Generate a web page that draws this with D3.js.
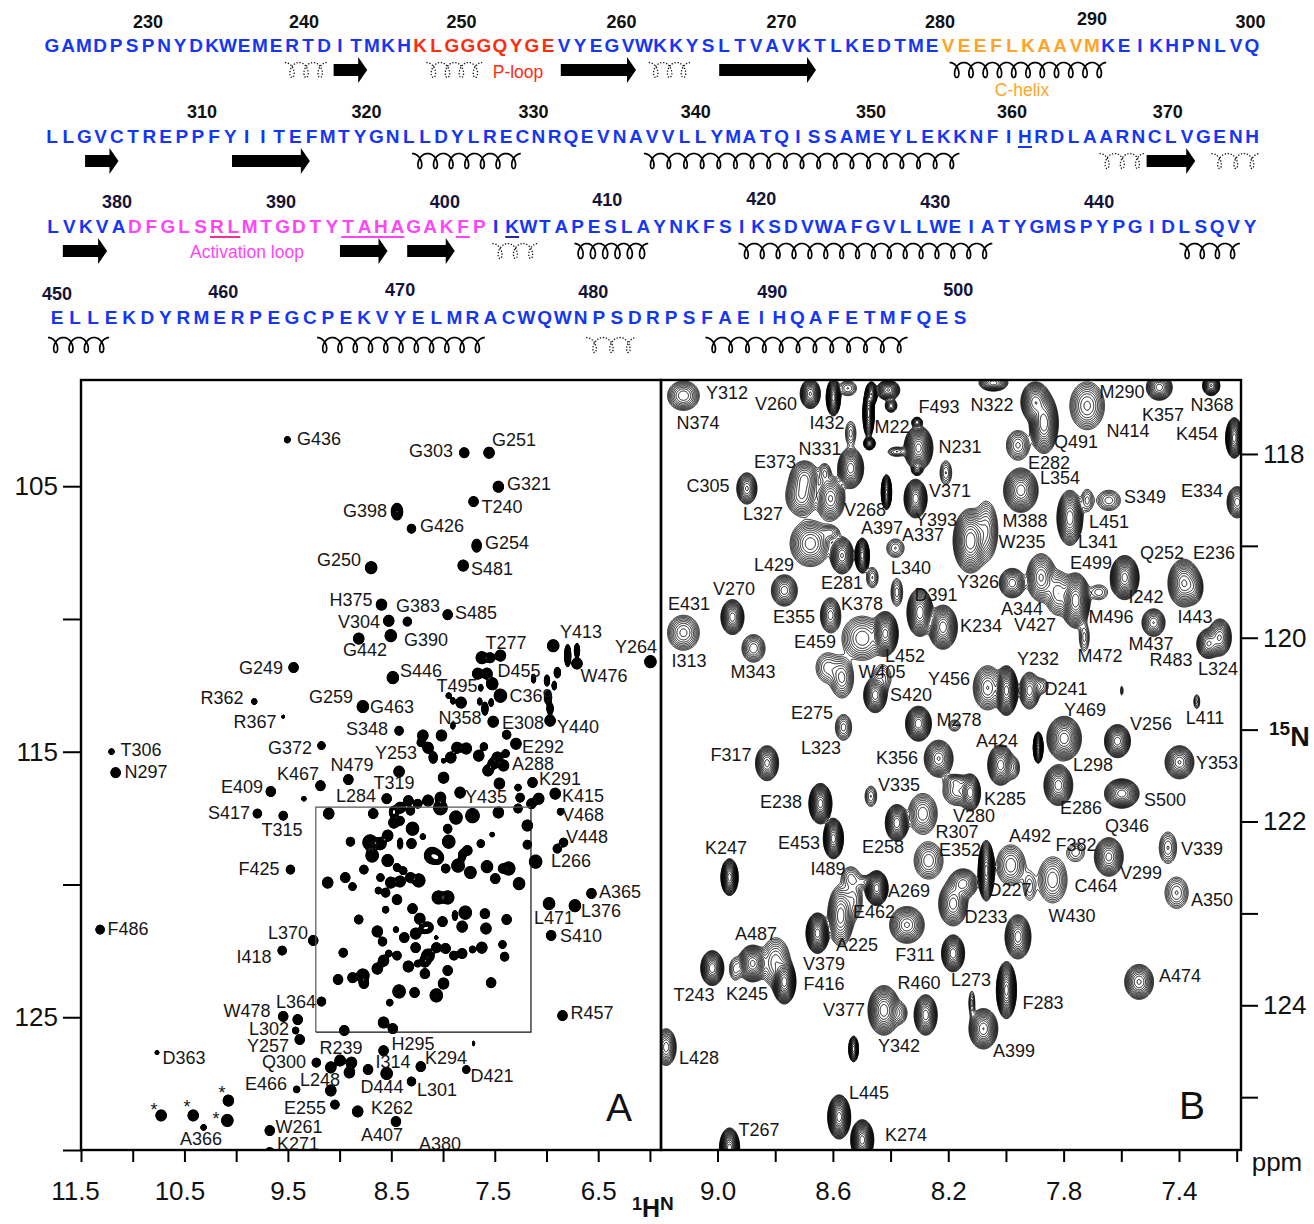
<!DOCTYPE html>
<html>
<head>
<meta charset="utf-8">
<script src="https://cdn.jsdelivr.net/npm/d3@7"></script>
<style>
  body { margin: 0; background: #fff; }
  svg text { font-family: "Liberation Sans", Arial, sans-serif; }
</style>
</head>
<body>
<div id="chart"></div>
<script>
// sequence, one string per printed row
const seqRows = [
  "GAMDPSPNYDKWEMERTDITMKHKLGGGQYGEVYEGVWKKYSLTVAVKTLKEDTMEVEEFLKAAVMKEIKHPNLVQ",
  "LLGVCTREPPFYIITEFMTYGNLLDYLRECNRQEVNAVVLLYMATQISSAMEYLEKKNFIHRDLAARNCLVGENH",
  "LVKVADFGLSRLMTGDTYTAHAGAKFPIKWTAPESLAYNKFSIKSDVWAFGVLLWEIATYGMSPYPGIDLSQVY",
  "ELLEKDYRMERPEGCPEKVYELMRACWQWNPSDRPSFAEIHQAFETMFQES"
];
const rowFirstResidue = [225, 301, 376, 450];

// coloured stretches: [row, first index, last index]
const pLoop = [0, 23, 31];
const cHelix = [0, 56, 65];
const activationLoop = [2, 5, 26];

// residue numbers printed over each row, with position along the row
const seqNumbers = [
  [[230, 6.0], [240, 15.75], [250, 25.6], [260, 35.6], [270, 45.6], [280, 55.5], [290, 65.0], [300, 74.9]],
  [[310, 9.25], [320, 19.4], [330, 29.7], [340, 39.7], [350, 50.5], [360, 59.2], [370, 68.8]],
  [[380, 3.9], [390, 13.9], [400, 23.9], [410, 33.8], [420, 43.2], [430, 53.8], [440, 63.8]],
  [[450, 0], [460, 9.2], [470, 19], [480, 29.7], [490, 39.6], [500, 49.9]]
];

// underlined residues: [row, first index, last index, colour name]
const underlines = [
  [1, 60, 60, "blue"], [2, 10, 11, "rose"], [2, 18, 21, "magenta"], [2, 25, 25, "magenta"], [2, 28, 28, "navy"]
];

// secondary structure as residue ranges: [row, from, to], helices also with their number of turns
const strands = [
  [0, 242.6, 244.7], [0, 256.8, 261.5], [0, 266.7, 272.75],
  [1, 303.04, 305.1], [1, 312.1, 316.9], [1, 368.5, 371.5],
  [2, 376.6, 379.3], [2, 393.5, 396.4], [2, 397.6, 400.5]
];
const helices = [
  [0, 281.1, 290.9, 11],
  [1, 323.2, 329.95, 7], [1, 337.5, 357, 19],
  [2, 407.8, 412.3, 6], [2, 417.8, 433.3, 16], [2, 444.7, 448.4, 4],
  [3, 449.5, 452.9, 4], [3, 464.4, 473.7, 11], [3, 485.9, 497.1, 12]
];
const dashedHelices = [
  [0, 239.56, 242.2, 3], [0, 248.4, 251.9, 4], [0, 262.3, 264.9, 3],
  [1, 365.6, 368.4, 3], [1, 372.5, 375.5, 3],
  [2, 402.8, 405.6, 3],
  [3, 479.3, 482.1, 3]
];

// full spectrum peaks: [1H ppm, 15N ppm, size, optional stretch in 15N]
const peaksA = [
  [9.51,103.23,.55],[7.80,103.72,.9],[7.56,103.72,1],[7.47,105.00,1],[7.71,105.56,.9],[8.45,105.94,1.1,1.4],
  [8.31,106.58,.8],[7.68,107.22,.9,1.3],[7.81,107.97,1],[8.70,108.05,1.1],[8.60,109.44,1],[8.35,110.08,.8],
  [8.53,110.05,1],[7.96,109.82,.9],[8.51,110.61,1.1],[8.82,110.72,1],[6.94,110.99,1.1],[6.00,111.59,1.1],
  [9.45,111.81,.9],[8.49,112.19,1.1],[9.83,113.09,.5],[8.78,113.28,1.1],[9.55,113.66,.25],[8.43,114.19,.8],
  [9.18,114.75,.7],[9.19,116.26,.9],[8.92,116.03,.9],[8.43,115.73,1],[8.55,116.75,.9],[9.67,116.48,.9],
  [9.80,117.31,.8],[9.55,117.39,.8],[9.35,116.75,.4],[6.92,116.56,1],[6.87,117.24,.6],[6.90,118.63,.8],
  [6.84,118.40,.8],[7.11,119.12,1.2],[9.48,119.42,.8],[6.57,120.32,.9],[6.73,120.78,1.1],[6.98,120.70,1.1],
  [6.96,121.90,.9],[11.32,121.68,.8],[9.26,122.09,.9],[9.56,122.47,.8],[6.85,124.92,.9],[9.18,124.39,.8],
  [9.55,124.95,.9],[9.41,125.07,.9],[9.43,125.48,.6],[9.39,125.82,.9],[8.96,125.48,.9],[8.58,125.18,1],
  [8.49,125.41,.9],[10.77,126.31,.35],[9.23,126.69,.8],[9.09,126.87,1],[9.00,126.61,1],[8.89,126.69,1],
  [8.91,127.06,1],[8.73,126.95,.9],[8.55,127.10,1.1],[8.22,126.84,.9],[7.78,126.95,.7],[8.58,126.24,.9],
  [7.71,125.97,.2,2],[9.42,127.70,.6],[9.09,127.74,1],[8.31,127.40,.8],[9.05,128.27,.8],[8.83,128.53,1],
  [8.46,128.91,.9],[10.08,128.12,1],[10.42,128.68,1],[10.73,128.68,1],[10.09,128.87,1.1],[10.32,129.13,.5],
  [9.68,129.25,.9],[9.68,130.08,.9],[8.29,130.15,.9],[11.21,114.98,.5],[11.17,115.77,.9],
  // upper crowded part
  [7.63,111.44,1.1],[7.45,111.36,1],[7.55,111.44,.9],[7.67,112.04,1],[7.58,112.04,1],[7.53,112.42,1.1],
  [7.45,112.87,1.2],[6.80,111.36,.6,3.4],[6.71,111.66,1],[6.71,111.17,.5,2.6],[6.90,112.00,.6,1.6],[7.00,112.30,.5,2],
  [6.93,112.49,.4,2],[7.13,112.23,.4,2],[7.64,112.57,.4,1.5],[7.83,113.13,1],[7.95,112.87,.5],[7.91,113.06,.4,1.5],
  [7.65,113.09,.4,1.6],[7.60,113.36,.6,2],[7.54,113.13,.4,1.8],[6.99,112.94,.7,1.8],[6.97,113.36,.6,1.8],[7.52,113.85,1],
  [6.97,113.81,1],[7.91,114.00,.4,1.5],[8.02,114.37,1],[8.20,114.37,1],[8.22,114.64,.7],[8.15,114.83,1],
  [8.10,115.20,.8,1.3],[7.87,114.83,1],[7.78,114.86,1],[7.93,115.20,1],[8.00,115.32,.4],[8.00,115.96,1],
  [7.66,115.13,1],[7.61,114.79,.7],[7.39,114.34,.8],[7.30,114.68,1],[7.40,115.05,.7],[7.48,115.20,1],
  [7.42,115.50,1],[7.52,115.43,1],[7.57,115.69,1],[7.46,116.18,1],[7.14,116.14,.9],[7.28,116.33,.6],
  [7.08,116.75,1],[7.84,116.52,1],[7.26,116.71,.8],[7.28,117.12,.8],[7.15,116.94,.9],[8.03,116.71,1],
  [8.15,116.82,1],[8.25,116.94,.8],[8.34,116.82,.9],[8.42,117.09,1],[8.48,117.20,.8],
  // boxed part, same region as panel B
  [9.11,117.31,1],[8.68,117.31,.9],[8.48,117.31,.8],[8.32,117.20,.8],[8.03,117.09,1.3],[7.88,117.46,1.2],
  [7.72,117.39,1.3],[7.47,117.27,1],[7.19,117.76,1],[8.30,117.88,1.2],[8.48,117.65,1],[8.42,117.58,.8],
  [8.54,118.14,1],[8.90,118.37,.8],[8.71,118.40,1.4],[8.61,118.44,1.1],[8.69,118.89,1.2],[8.54,119.08,1.1],
  [8.42,118.44,.5,2],[8.31,118.44,.9],[8.20,118.18,.5],[7.95,118.37,1.2],[7.96,117.88,.8],[7.64,118.44,.7],
  [7.53,118.10,.4],[7.19,118.48,.8],[7.77,118.70,.9],[8.11,118.89,1.5],[8.06,118.97,1.2],[7.86,119.27,1.2],
  [7.98,119.38,.8],[7.74,119.53,1.1],[7.82,118.89,.7,1.5],[7.58,119.31,1.1],[7.37,119.38,1.2],[7.43,119.38,.8],
  [7.50,119.76,.9],[7.27,119.95,1.1],[8.77,119.42,.8],[8.45,119.34,.7],[8.39,119.46,.7],[9.12,119.91,1],
  [8.95,119.72,.9],[8.88,120.06,.7],[8.61,119.72,.7],[8.51,119.91,1],[8.42,119.87,1],[8.32,119.72,.9],
  [8.24,119.83,1.2],[8.63,120.21,.6],[8.56,120.29,.8],[8.45,120.55,.9],[8.05,120.47,1.2],[7.96,120.47,1.2],
  [8.30,120.89,.9],[8.56,120.93,.6],[8.82,121.30,.8],[8.23,121.27,1],[8.15,121.60,1],[8.01,121.38,.9],
  [7.79,121.04,1.2],[7.89,121.15,.5,1.8],[7.60,121.08,.9],[7.82,121.57,1],[7.39,121.30,.9],[7.59,121.64,1],
  [8.64,121.75,1],[8.59,122.13,.8],[8.46,121.68,.5],[8.38,121.98,.9],[8.27,121.83,1],[8.19,121.64,.9],
  [8.07,121.98,.3],[8.27,122.36,.9],[8.07,122.36,.9],[7.98,122.39,.9],[7.90,122.66,.8],[7.82,122.58,.9],
  [7.72,122.43,.6],[7.63,122.36,1],[7.43,122.24,.7],[7.41,122.70,.8],[8.97,122.55,.8],[8.53,122.58,.6],
  [8.45,122.66,.8],[8.15,122.66,1.2],[8.18,122.88,1],[8.34,123.07,1],[8.25,122.96,.6],[7.96,123.22,.9],
  [8.18,123.34,.9],[8.58,122.85,1],[8.64,123.15,1],[9.02,123.56,.9],[8.88,123.49,.9],[8.78,123.41,1.2],
  [8.77,123.71,.9],[8.43,124.01,1.2],[8.28,124.05,.9],[8.00,123.71,1],[8.07,124.16,1.2],[7.54,123.68,.9],
  [8.52,124.43,.6]
];

// zoomed region peaks: [1H ppm, 15N ppm, half width 1H, half width 15N, intensity]
const peaksB = [
  [9.12,117.36,.055,.16,9],[8.68,117.34,.035,.16,26],[8.60,117.38,.025,.20,80],[8.478,117.55,.02,.27,80],
  [8.468,117.34,.02,.13,40],[8.475,117.88,.02,.07,26],[8.41,117.30,.04,.11,26],[8.40,117.47,.02,.07,9],
  [8.305,117.93,.05,.24,60],[8.31,117.65,.018,.055,9],[8.31,118.17,.018,.055,9],[8.21,118.20,.02,.13,3.5],
  [8.54,118.15,.045,.22,30],[8.54,117.77,.018,.13,3],[8.70,118.26,.05,.19,12],[8.71,118.45,.055,.22,12],
  [8.61,118.48,.05,.24,16],[8.90,118.37,.035,.17,16],[8.416,118.41,.018,.19,100],[8.315,118.48,.04,.21,50],
  [8.68,118.97,.07,.25,14],[8.57,119.10,.04,.20,26],[8.50,119.10,.025,.19,80],[8.385,119.02,.03,.10,3.5],
  [8.125,118.94,.06,.35,40],[8.07,118.83,.04,.32,9],[8.77,119.48,.045,.17,14],[8.465,119.34,.02,.11,3.5],
  [8.38,119.50,.02,.15,4],[8.95,119.77,.04,.19,30],[9.12,119.94,.055,.19,8],[8.877,120.11,.04,.15,7],
  [8.61,119.75,.035,.19,14],[8.50,120.0,.07,.24,9],[8.42,119.95,.045,.24,60],[8.30,119.72,.045,.26,40],
  [8.22,119.88,.05,.24,30],[8.62,120.32,.04,.16,4],[8.57,120.43,.04,.22,8],
  [7.90,117.43,.05,.22,30],[7.87,117.66,.05,.33,40],[7.72,117.47,.06,.26,10],[7.47,117.27,.045,.14,18],
  [7.29,117.25,.03,.11,26],[8.045,117.22,.05,.09,14],[7.21,117.82,.03,.22,80],[7.96,117.90,.04,.16,6],
  [7.95,118.39,.06,.24,30],[7.78,118.69,.045,.30,40],[7.645,118.50,.04,.11,4],[7.20,118.52,.035,.17,14],
  [7.98,119.40,.045,.16,14],[7.88,119.34,.05,.26,16],[7.82,119.51,.045,.24,9],[7.76,119.59,.05,.30,50],
  [7.59,119.34,.05,.24,60],[7.385,119.40,.055,.26,26],[7.35,119.45,.03,.16,8],[7.49,119.83,.04,.15,12],
  [7.30,120.06,.04,.16,20],[7.26,119.99,.04,.20,20],[7.73,119.99,.017,.15,3],
  [8.00,120.57,.04,.27,100],[8.065,120.54,.05,.24,12],[7.92,120.57,.035,.2,14],[7.89,121.19,.017,.17,100],
  [7.80,121.09,.06,.24,30],[7.615,121.12,.045,.18,30],[7.40,121.35,.05,.18,20],[8.02,121.38,.045,.22,30],
  [7.975,121.41,.02,.11,3.5],[7.82,121.60,.05,.22,30],[7.60,121.69,.06,.16,30],[7.34,120.69,.01,.075,3],
  [7.60,120.57,.004,.05,2],[7.44,122.28,.03,.17,4.5],[7.41,122.77,.04,.17,4.5],[7.645,122.38,.05,.21,22],
  [7.985,122.47,.05,.22,7],[7.84,122.63,.05,.25,7],[8.07,122.53,.028,.33,100],[7.96,123.25,.045,.24,30],
  [8.455,120.62,.04,.19,30],[8.305,120.93,.045,.19,40],[8.565,120.97,.028,.14,5],[8.83,121.36,.04,.19,22],
  [8.235,121.31,.05,.2,20],[8.47,121.72,.02,.11,3.5],[8.645,121.80,.04,.22,80],[8.60,122.18,.035,.22,80],
  [8.38,122.01,.04,.2,40],[8.29,121.91,.05,.22,9],[8.17,121.66,.05,.16,7],[8.125,121.68,.035,.2,30],
  [8.96,122.60,.03,.2,80],[8.45,122.72,.04,.19,80],[8.54,122.60,.03,.11,3.5],[8.27,122.42,.05,.2,7],
  [8.575,123.02,.045,.33,18],[8.655,123.21,.04,.22,80],[8.345,123.12,.06,.2,16],[8.185,122.89,.05,.24,18],
  [8.15,122.67,.05,.16,14],[8.185,123.43,.04,.2,40],
  [9.02,123.59,.04,.19,40],[8.88,123.54,.05,.2,35],[8.80,123.53,.05,.27,9],[8.77,123.74,.04,.24,80],
  [8.425,124.05,.055,.27,30],[8.37,124.08,.025,.11,3.5],[8.28,124.10,.04,.22,30],[8.00,123.83,.035,.31,100],
  [8.08,124.25,.05,.22,25],[8.12,123.97,.01,.13,3],[7.54,123.74,.05,.19,16],[9.18,124.45,.035,.2,14],
  [8.53,124.47,.017,.14,30],[8.58,125.21,.04,.24,80],[8.50,125.46,.04,.22,80],[8.96,125.55,.035,.22,80],
  // weak ridges joining neighbouring peaks
  [7.76,122.33,.03,.10,2.5],[7.92,122.70,.02,.15,2.5],[7.68,119.50,.03,.08,2.5],[7.72,118.50,.02,.12,3],
  [7.88,120.52,.025,.08,3],[8.94,123.60,.02,.12,3],[8.53,122.85,.03,.20,4],[8.49,122.65,.03,.06,3],
  [8.55,117.28,.03,.08,3.5],[8.38,117.97,.03,.05,3.5],[8.63,118.20,.02,.10,3.5],[8.61,118.85,.03,.07,3.5],
  [8.43,120.43,.03,.14,3],[8.18,120.95,.02,.06,2.5],[8.18,121.55,.03,.05,3]
];

// axis ticks
const hTicksA = [11.5, 11, 10.5, 10, 9.5, 9, 8.5, 8, 7.5, 7, 6.5, 6];
const hLabelsA = [11.5, 10.5, 9.5, 8.5, 7.5, 6.5];
const nTicksA = [105, 110, 115, 120, 125, 130];
const nLabelsA = [105, 115, 125];
const hTicksB = [9, 8.8, 8.6, 8.4, 8.2, 8, 7.8, 7.6, 7.4, 7.2];
const hLabelsB = [9, 8.6, 8.2, 7.8, 7.4];
const nTicksB = [118, 119, 120, 121, 122, 123, 124, 125];
const nLabelsB = [118, 120, 122, 124];
// region of panel B as outlined inside panel A
const zoomBoxH = [9.23, 7.15];
const zoomBoxN = [117.09, 125.56];

// assignment label placement, page pixels
const labelLayoutA = [
  ["G436",319,439],["G303",431,451],["G251",514,440],["G321",529,484],["T240",502,507],["G398",365,511],
  ["G426",442,526],["G254",507,543],["S481",492,569],["G250",339,560],["H375",351,600],["G383",418,606],
  ["S485",476,613],["V304",359,622],["G390",426,640],["G442",365,650],["T277",506,643],["Y413",581,632],
  ["Y264",636,647],["W476",604,676],["G249",261,668],["S446",421,671],["D455",519,671],["T495",457,686],
  ["C369",531,696],["R362",222,698],["G259",331,697],["G463",392,707],["R367",255,722],["S348",367,729],
  ["N358",460,718],["E308",523,723],["Y440",578,727],["G372",290,748],["Y253",396,753],["E292",543,747],
  ["A288",533,764],["N479",352,765],["K467",298,774],["T319",394,783],["K291",560,779],["E409",242,787],
  ["L284",356,796],["Y435",486,797],["K415",583,796],["S417",229,813],["V468",583,815],["T315",282,830],
  ["V448",587,837],["L266",571,861],["F425",259,869],["A365",620,892],["L376",601,911],["L471",554,918],
  ["S410",581,936],["F486",128,929],["L370",288,933],["I418",254,957],["T306",141,750],["N297",146,772],
  ["R457",592,1013],["L364",296,1002],["W478",247,1011],["L302",269,1029],["Y257",268,1046],["R239",341,1048],
  ["H295",413,1044],["D363",184,1058],["Q300",284,1062],["K294",446,1058],["I314",393,1062],["D421",492,1076],
  ["E466",266,1084],["L248",320,1080],["D444",382,1087],["L301",437,1090],["E255",305,1108],["K262",392,1108],
  ["*",222,1093],["*",187,1107],["*",154,1110],["*",216,1119],["W261",299,1127],["A407",382,1135],
  ["A366",201,1139],["K271",298,1144],["A380",440,1144]
];
const labelLayoutB = [
  ["Y312",727,393],["V260",776,404],["N374",698,423],["I432",827,423],["M22",892,427],["F493",939,407],
  ["N322",992,405],["M290",1122,392],["K357",1163,415],["N368",1212,405],["N414",1128,431],["K454",1197,434],
  ["N231",960,447],["N331",820,449],["Q491",1076,442],["E373",775,462],["E282",1049,463],["L354",1060,478],
  ["C305",708,486],["V371",950,491],["E334",1202,491],["S349",1145,497],["V268",865,510],["L327",763,514],
  ["M388",1025,521],["L451",1109,522],["Y393",936,520],["A397",882,528],["A337",923,535],["W235",1022,542],
  ["L341",1098,542],["Q252",1162,553],["E236",1214,553],["E499",1091,563],["L429",774,565],["L340",911,568],
  ["Y326",978,582],["E281",842,583],["V270",734,589],["I242",1146,597],["K378",862,604],["E431",689,604],
  ["D391",936,595],["A344",1022,609],["E355",794,617],["I443",1195,617],["M496",1111,617],["V427",1035,625],
  ["M437",1151,644],["K234",981,626],["E459",815,642],["R483",1171,660],["L452",905,656],["I313",689,661],
  ["M343",753,672],["M472",1100,656],["L324",1218,669],["W405",882,672],["Y232",1038,659],["Y456",949,679],
  ["D241",1066,689],["S420",911,695],["E275",812,713],["Y469",1085,710],["M278",959,720],["V256",1151,724],
  ["L411",1205,718],["A424",997,741],["L323",821,748],["F317",731,755],["K356",897,758],["Y353",1217,763],
  ["L298",1093,765],["V335",899,785],["K285",1005,799],["E286",1081,808],["S500",1165,800],["E238",781,802],
  ["V280",974,816],["R307",957,832],["A492",1030,836],["Q346",1127,826],["E453",799,843],["F382",1076,845],
  ["E258",883,847],["V339",1202,849],["E352",960,850],["K247",726,848],["I489",828,869],["V299",1141,873],
  ["C464",1096,886],["A269",909,891],["D227",1010,890],["A350",1212,900],["E462",874,912],["W430",1072,916],
  ["D233",986,917],["A225",857,945],["A487",756,934],["F311",915,955],["V379",824,964],["L273",971,980],
  ["A474",1180,976],["R460",919,983],["F416",824,984],["T243",694,995],["K245",747,994],["F283",1043,1003],
  ["V377",844,1010],["Y342",899,1046],["A399",1014,1051],["L428",699,1058],["L445",869,1093],["T267",759,1130],
  ["K274",906,1135]
];

const width = 1314, height = 1224;
const colors = { blue: "#1537f5", red: "#ff2d0f", orange: "#ffa428", magenta: "#ff45f5",
                 rose: "#f0308f", navy: "#232a9c" };

const svg = d3.select("#chart").append("svg")
  .attr("width", width).attr("height", height);

// ---- sequence block ----
const rowScales = [
  d3.scaleLinear().domain([0, 75]).range([52, 1252]),
  d3.scaleLinear().domain([0, 74]).range([52, 1252]),
  d3.scaleLinear().domain([0, 73]).range([53, 1250]),
  d3.scaleLinear().domain([0, 50]).range([57, 960])
];
const baselines = [52, 143, 233, 324];
const numberBaselines = [28, 118, 208, 298];
const structureY = [70, 161, 251, 345];
const numberLift = { 290: 3, 410: 2, 420: 3, 470: 2, 500: 2, 450: -2 };

function letterColor(row, i) {
  for (const [s, c] of [[pLoop, colors.red], [cHelix, colors.orange], [activationLoop, colors.magenta]]) {
    if (s[0] == row && i >= s[1] && i <= s[2]) return c;
  }
  return colors.blue;
}

const seqGroup = svg.append("g").attr("class", "sequence");
seqRows.forEach((seq, row) => {
  seqGroup.selectAll(null)
    .data(seq.split(""))
    .enter().append("text")
    .attr("x", (d, i) => rowScales[row](i))
    .attr("y", baselines[row])
    .attr("text-anchor", "middle")
    .style("font-size", "19px")
    .style("font-weight", "bold")
    .style("fill", (d, i) => letterColor(row, i))
    .text(d => d);

  seqGroup.selectAll(null)
    .data(seqNumbers[row])
    .enter().append("text")
    .attr("x", d => rowScales[row](d[1]))
    .attr("y", d => numberBaselines[row] - (numberLift[d[0]] || 0))
    .attr("text-anchor", "middle")
    .style("font-size", "18px")
    .style("font-weight", "bold")
    .style("fill", row < 2 ? "#111" : "#14143a")
    .text(d => d[0]);
});

underlines.forEach(u => {
  const sc = rowScales[u[0]];
  seqGroup.append("line")
    .attr("x1", sc(u[1]) - 7).attr("x2", sc(u[2]) + 7)
    .attr("y1", baselines[u[0]] + 4).attr("y2", baselines[u[0]] + 4)
    .style("stroke", colors[u[3]]).style("stroke-width", 2);
});

function residueX(row, r) { return rowScales[row](r - rowFirstResidue[row]); }

// strand arrows
strands.forEach(s => {
  const x0 = residueX(s[0], s[1]), x1 = residueX(s[0], s[2]), y = structureY[s[0]];
  const p = d3.path();
  p.moveTo(x0, y - 6); p.lineTo(x1 - 9, y - 6); p.lineTo(x1 - 9, y - 13); p.lineTo(x1, y);
  p.lineTo(x1 - 9, y + 13); p.lineTo(x1 - 9, y + 6); p.lineTo(x0, y + 6); p.closePath();
  seqGroup.append("path").attr("d", p.toString()).style("fill", "#000");
});

// coil drawn as a looping trochoid, top arches and closed loops below
const coilLine = d3.line().curve(d3.curveLinear);
function coilPoints(row, from, to, turns) {
  const x0 = residueX(row, from), x1 = residueX(row, to), y = structureY[row];
  const pitch = (x1 - x0) / turns;
  const pts = [];
  const tEnd = 2 * Math.PI * (turns - 1) + Math.PI;
  for (let t = -Math.PI; t <= tEnd + 0.01; t += 0.1) {
    pts.push([x0 + (t + Math.PI) / (2 * Math.PI) * pitch - 5.2 * Math.sin(t), y + 7.5 * Math.cos(t)]);
  }
  return pts;
}
helices.forEach(h => {
  seqGroup.append("path").attr("d", coilLine(coilPoints(h[0], h[1], h[2], h[3])))
    .style("fill", "none").style("stroke", "#000").style("stroke-width", 1.7);
});
dashedHelices.forEach(h => {
  seqGroup.append("path").attr("d", coilLine(coilPoints(h[0], h[1], h[2], h[3])))
    .style("fill", "none").style("stroke", "#111").style("stroke-width", 1.3)
    .style("stroke-dasharray", "1.3,1.7");
});

function seqNote(txt, x, y, c) {
  seqGroup.append("text").attr("x", x).attr("y", y).attr("text-anchor", "middle")
    .style("font-size", "17.5px").style("fill", c).text(txt);
}
seqNote("P-loop", 518, 78, colors.red);
seqNote("C-helix", 1022, 96, colors.orange);
seqNote("Activation loop", 247, 258, colors.magenta);

// ---- spectra ----
const plotTop = 380, plotBottom = 1150;
const xA = d3.scaleLinear().domain([11.5, 5.893]).range([81, 661]);
const yA = d3.scaleLinear().domain([101, 130]).range([plotTop, plotBottom]);
const xB = d3.scaleLinear().domain([9.196, 7.185]).range([661, 1241]);
const yB = d3.scaleLinear().domain([117.195, 125.575]).range([plotTop, plotBottom]);

function buildField(peaks, xs, ys, w, h) {
  const left = xs.range()[0], field = new Float64Array(w * h);
  peaks.forEach(p => {
    const cx = xs(p.h) - left, cy = ys(p.n) - plotTop;
    const spread = Math.sqrt(2 * Math.log(p.amp));
    const sx = Math.max(0.4, Math.abs(xs(p.h + p.wH) - xs(p.h)) / spread);
    const sy = Math.max(0.4, Math.abs(ys(p.n + p.wN) - ys(p.n)) / spread);
    const i0 = Math.max(0, Math.floor(cx - 5 * sx)), i1 = Math.min(w - 1, Math.ceil(cx + 5 * sx));
    const j0 = Math.max(0, Math.floor(cy - 5 * sy)), j1 = Math.min(h - 1, Math.ceil(cy + 5 * sy));
    for (let j = j0; j <= j1; j++) {
      for (let i = i0; i <= i1; i++) {
        const dx = (i - cx) / sx, dy = (j - cy) / sy;
        field[j * w + i] += p.amp * Math.exp(-0.5 * (dx * dx + dy * dy));
      }
    }
  });
  return field;
}

function drawContours(id, peaks, xs, ys, levels, strokeWidth) {
  const left = xs.range()[0], w = xs.range()[1] - left, h = plotBottom - plotTop;
  svg.append("clipPath").attr("id", id)
    .append("rect").attr("width", w).attr("height", h);
  const field = buildField(peaks, xs, ys, w, h);
  const contours = d3.contours().size([w, h]).thresholds(levels)(field);
  const holder = svg.append("g")
    .attr("transform", `translate(${left},${plotTop})`)
    .attr("clip-path", `url(#${id})`);
  holder.selectAll("path")
    .data(contours)
    .enter().append("path")
    .attr("d", d3.geoPath())
    .style("fill", "none")
    .style("stroke", "#000")
    .style("stroke-width", strokeWidth);
}

const peakListA = peaksA.map(p => ({ h: p[0], n: p[1], wH: 0.05 * p[2], wN: 0.205 * p[2] * (p[3] || 1), amp: 11 }));
const peakListB = peaksB.map(p => ({ h: p[0], n: p[1], wH: p[2], wN: p[3], amp: p[4] }));

const levelsA = [1, 1.3, 1.7, 2.2, 2.8, 3.5, 4.3, 5.2, 6.2, 7.2, 8.2, 9.2, 10.2, 10.8];
const levelsB = d3.range(0, 19).map(k => Math.pow(1.28, k));
drawContours("clipA", peakListA, xA, yA, levelsA, 1.1);
drawContours("clipB", peakListB, xB, yB, levelsB, 0.9);

// outlined region of panel B inside panel A
svg.append("path")
  .attr("d", `M${xA(zoomBoxH[0])},${yA(zoomBoxN[1])}V${yA(zoomBoxN[0])}H${xA(zoomBoxH[1])}`)
  .style("fill", "none").style("stroke", "#555").style("stroke-width", 1.2);
svg.append("path")
  .attr("d", `M${xA(zoomBoxH[1])},${yA(zoomBoxN[0])}V${yA(zoomBoxN[1])}H${xA(zoomBoxH[0])}`)
  .style("fill", "none").style("stroke", "#111").style("stroke-width", 1.2);

// assignment labels
function addLabels(layout) {
  svg.append("g").selectAll("text")
    .data(layout)
    .enter().append("text")
    .attr("x", d => d[1])
    .attr("y", d => d[2])
    .attr("dy", "0.36em")
    .attr("text-anchor", "middle")
    .style("font-size", "18px")
    .style("fill", "#161616")
    .text(d => d[0]);
}
addLabels(labelLayoutA);
addLabels(labelLayoutB);

// frames
[[81, 580], [661, 580]].forEach(f => {
  svg.append("rect")
    .attr("x", f[0]).attr("y", plotTop).attr("width", f[1]).attr("height", plotBottom - plotTop)
    .style("fill", "none").style("stroke", "#000").style("stroke-width", 2.4);
});

// axes
function styleAxis(g, fontSize) {
  g.select(".domain").remove();
  g.selectAll("line").style("stroke", "#000").style("stroke-width", 2);
  g.selectAll("text").style("font-size", fontSize).style("fill", "#111")
    .style("font-family", '"Liberation Sans", Arial, sans-serif');
}
const fmtTick = labels => d => labels.includes(d) ? d3.format(".1f")(d) : "";
const fmtInt = labels => d => labels.includes(d) ? d : "";

svg.append("g").attr("transform", `translate(0,${plotBottom})`)
  .call(d3.axisBottom(xA).tickValues(hTicksA).tickFormat(fmtTick(hLabelsA)).tickSize(12).tickPadding(20))
  .call(g => styleAxis(g, "26px"))
  .call(g => g.selectAll("text").attr("dx", d => d == 11.5 ? -6 : (d == 10.5 ? -5 : (d == 7.5 ? -2 : 0))));
svg.append("g").attr("transform", `translate(0,${plotBottom})`)
  .call(d3.axisBottom(xB).tickValues(hTicksB).tickFormat(fmtTick(hLabelsB)).tickSize(12).tickPadding(20))
  .call(g => styleAxis(g, "26px"));
svg.append("g").attr("transform", "translate(81,0)")
  .call(d3.axisLeft(yA).tickValues(nTicksA).tickFormat(fmtInt(nLabelsA)).tickSize(18).tickPadding(5))
  .call(g => styleAxis(g, "26px"));
svg.append("g").attr("transform", "translate(1241,0)")
  .call(d3.axisRight(yB).tickValues(nTicksB).tickFormat(fmtInt(nLabelsB)).tickSize(17).tickPadding(5))
  .call(g => styleAxis(g, "26px"));

svg.append("text").attr("x", 1277).attr("y", 1171).attr("text-anchor", "middle")
  .style("font-size", "26px").style("fill", "#111").text("ppm");

// panel letters
svg.append("text").attr("x", 619).attr("y", 1121).attr("text-anchor", "middle")
  .style("font-size", "39px").style("fill", "#111").text("A");
svg.append("text").attr("x", 1192).attr("y", 1119).attr("text-anchor", "middle")
  .style("font-size", "39px").style("fill", "#111").text("B");

// nucleus labels
const hLabel = svg.append("text").attr("x", 632).attr("y", 1217)
  .style("font-weight", "bold").style("fill", "#111");
hLabel.append("tspan").attr("dy", -7).style("font-size", "18px").text("1");
hLabel.append("tspan").attr("dy", 7).style("font-size", "25px").text("H");
hLabel.append("tspan").attr("dy", -7).style("font-size", "19px").text("N");

const nLabel = svg.append("text").attr("x", 1269).attr("y", 746)
  .style("font-weight", "bold").style("fill", "#111");
nLabel.append("tspan").attr("dy", -11).style("font-size", "19px").text("15");
nLabel.append("tspan").attr("dy", 11).style("font-size", "27px").text("N");
</script>
</body>
</html>
